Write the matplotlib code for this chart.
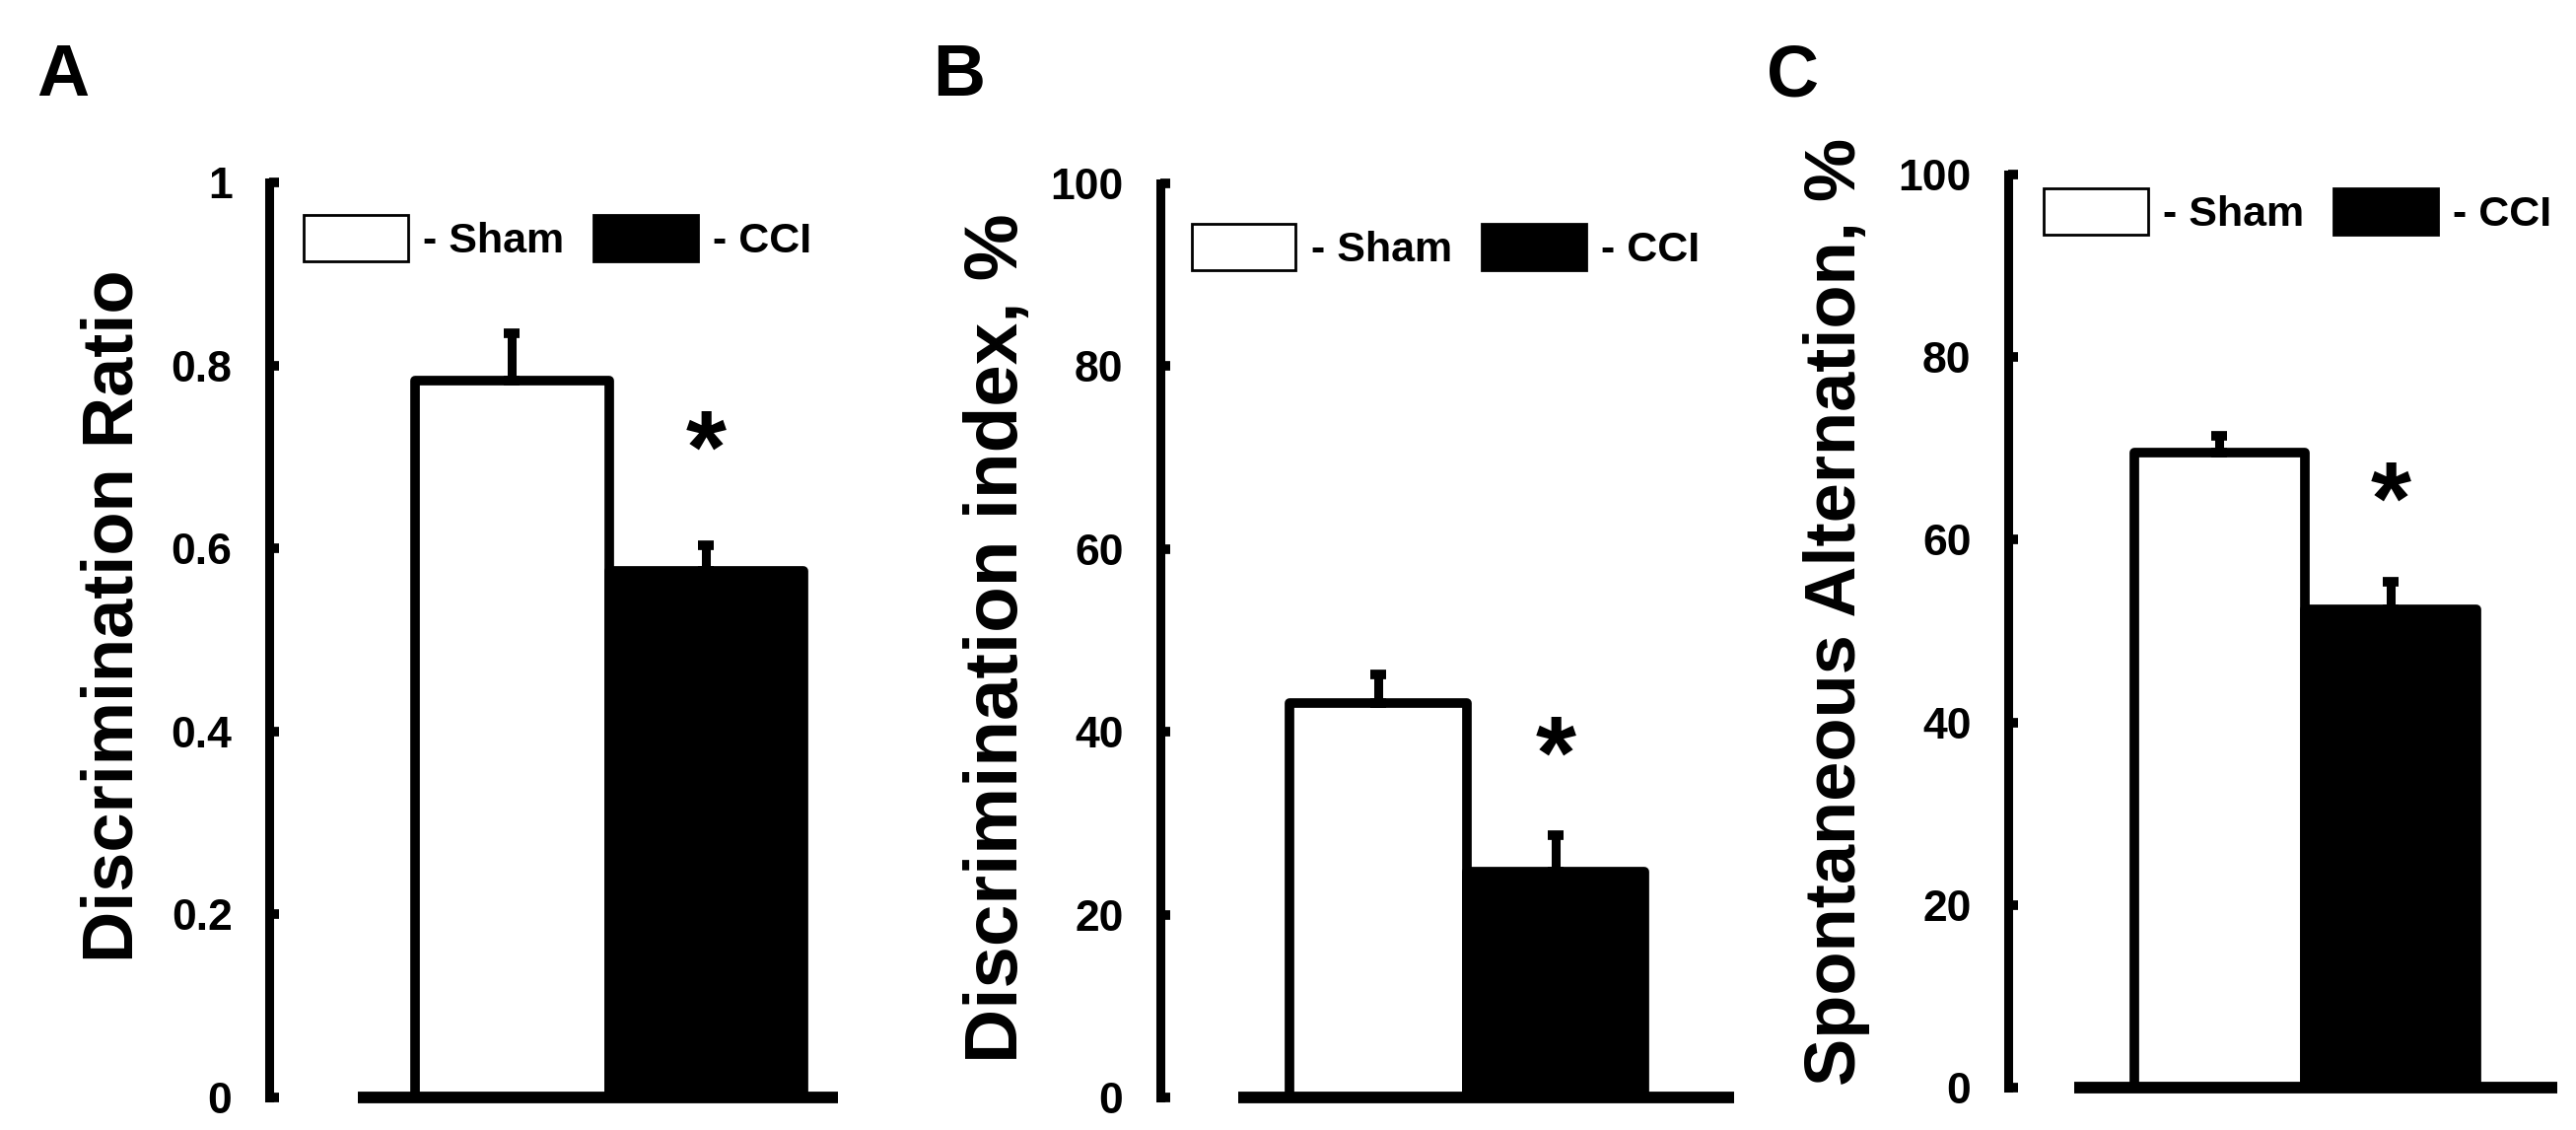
import numpy as np
import matplotlib.pyplot as plt
from matplotlib.patches import Patch

plt.rcParams['font.family'] = ['Liberation Sans', 'DejaVu Sans']
plt.rcParams['font.weight'] = 'bold'

# values (mean and upper SEM)
groups = ['Sham', 'CCI']
ratio_mean = [0.783, 0.575]
ratio_sem = [0.052, 0.028]
index_mean = [43.1, 24.7]
index_sem = [3.2, 4.0]
alt_mean = [69.5, 52.4]
alt_sem = [1.9, 3.0]

# height of the significance asterisk over CCI
star_y = [0.755, 42.1, 68.9]

ratio_ticks = [0, 0.2, 0.4, 0.6, 0.8, 1]
ratio_ticklabels = ['0', '0.2', '0.4', '0.6', '0.8', '1']
pct_ticks = [0, 20, 40, 60, 80, 100]
pct_ticklabels = ['0', '20', '40', '60', '80', '100']

W, H = 2613, 1146
fig = plt.figure(figsize=(W / 100, H / 100), dpi=100)


def draw_panel(box, letter, letter_x, ylabel, label_xy, label_size, means,
               sems, ticks, ticklabels, star, xlim, base_start, leg_anchor):
    # box = left, top, right, bottom in pixels
    l, t, r, b = box
    ax = fig.add_axes([l / W, 1 - b / H, (r - l) / W, (b - t) / H])
    x = np.arange(len(means))
    ax.bar(x, means, width=1, color=['white', 'black'], edgecolor='black',
           linewidth=7, joinstyle='round', zorder=2)
    ax.errorbar(x, means, yerr=[np.zeros(len(sems)), sems], fmt='none',
                ecolor='black', elinewidth=6.5, capsize=6, capthick=7, zorder=3)
    ax.axhline(0, xmin=base_start, xmax=1, color='black', lw=8.5,
               solid_capstyle='butt', clip_on=False, zorder=4)
    ax.text(1, star, '*', ha='center', va='top', fontsize=76,
            fontweight='bold')

    ax.set_xlim(*xlim)
    ax.set_ylim(ticks[0], ticks[-1])
    for s in ['top', 'right', 'bottom']:
        ax.spines[s].set_visible(False)
    ax.spines['left'].set_linewidth(6.5)
    ax.set_xticks([])
    ax.set_yticks(ticks)
    ax.set_yticklabels(ticklabels)
    ax.tick_params(axis='y', direction='in', length=7.5, width=7,
                   pad=27, labelsize=32)

    ax.set_ylabel(ylabel, fontsize=label_size, fontweight='bold', va='center')
    ax.yaxis.set_label_coords(label_xy[0] / W, 1 - label_xy[1] / H,
                              transform=fig.transFigure)

    handles = [Patch(facecolor='white', edgecolor='black', linewidth=2),
               Patch(facecolor='black', edgecolor='black', linewidth=2)]
    ax.legend(handles, ['- ' + g for g in groups], ncol=2, loc='upper left',
              bbox_to_anchor=leg_anchor, frameon=False, fontsize=31,
              borderpad=0, borderaxespad=0, handlelength=2.45,
              handleheight=1.3, handletextpad=0.36, columnspacing=0.7)

    fig.text(letter_x / W, 1 - 97 / H, letter, fontsize=53, ha='left',
             va='baseline')
    return ax


draw_panel((273, 185, 850, 1113), 'A', 37, 'Discrimination Ratio', (116, 625),
           52, ratio_mean, ratio_sem, ratio_ticks, ratio_ticklabels,
           star_y[0], (-1.249, 1.68), 0.156, (0.061, 0.964))
draw_panel((1177, 186, 1759, 1113), 'B', 946, 'Discrimination index, %',
           (1013, 647), 55, index_mean, index_sem, pct_ticks, pct_ticklabels,
           star_y[1], (-1.228, 2.006), 0.136, (0.055, 0.956))
draw_panel((2037, 177, 2594, 1103), 'C', 1792, 'Spontaneous Alternation, %',
           (1863, 620), 52, alt_mean, alt_sem, pct_ticks, pct_ticklabels,
           star_y[2], (-1.236, 1.974), 0.12, (0.065, 0.985))

fig.savefig('out.png', dpi=100)
